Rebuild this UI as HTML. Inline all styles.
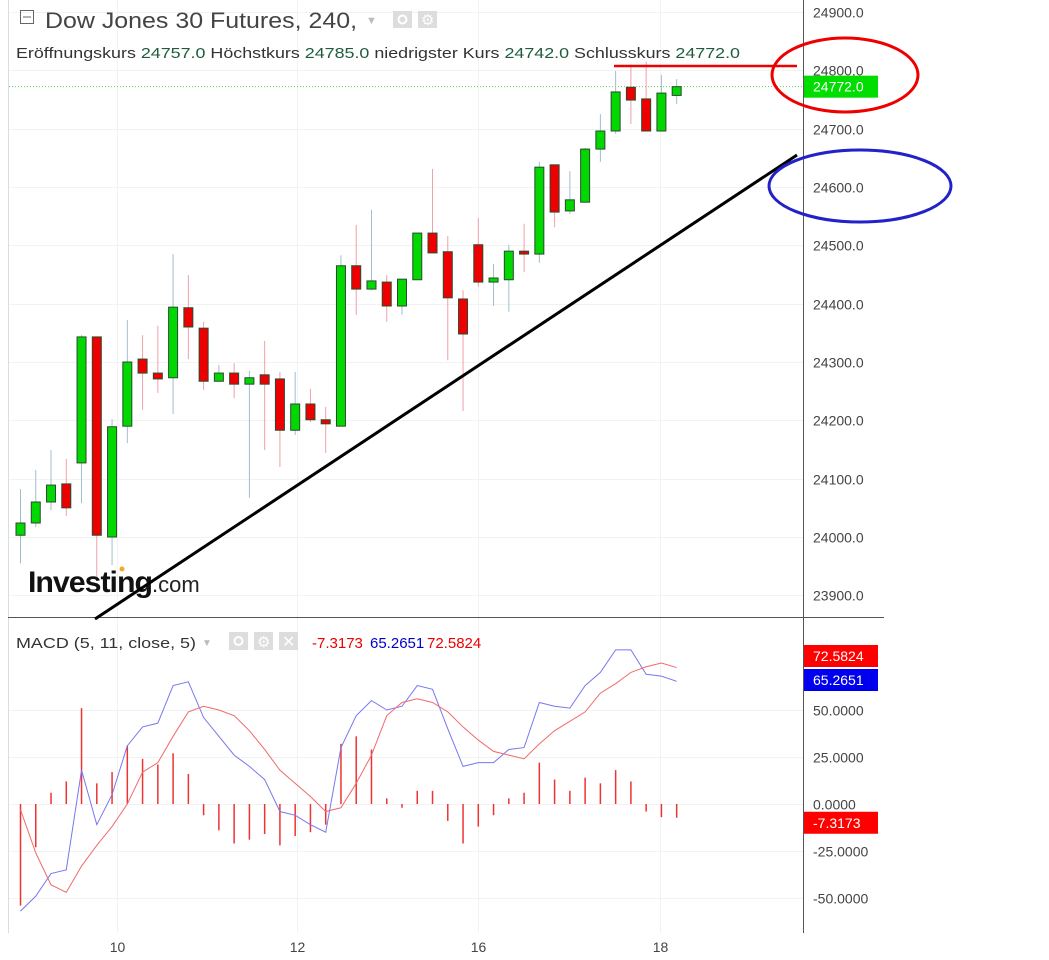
<!DOCTYPE html>
<html><head><meta charset="utf-8">
<style>
html,body{margin:0;padding:0;background:#fff;width:1049px;height:960px;overflow:hidden}
svg{display:block;font-family:"Liberation Sans",sans-serif}
</style></head>
<body>
<svg id="chart" width="1049" height="960">
  <rect x="0" y="0" width="1049" height="960" fill="#fff"/>
  <line x1="8.5" y1="0" x2="8.5" y2="933" stroke="#d8dce3"/>
  <g id="grid"></g>
  <g id="price-area"></g>
  <g id="macd-area"></g>
  <line x1="8" y1="617.5" x2="884" y2="617.5" stroke="#555"/>
  <line x1="803.5" y1="0" x2="803.5" y2="933" stroke="#555"/>
  <g id="axis"></g>

  <g>
    <rect x="20.5" y="10.5" width="13" height="13" fill="none" stroke="#666"/>
    <line x1="23" y1="17" x2="31" y2="17" stroke="#666"/>
    <text x="45" y="28" font-size="22" fill="#444" textLength="312" lengthAdjust="spacingAndGlyphs">Dow Jones 30 Futures, 240,</text>
    <text x="366" y="24" font-size="11" fill="#bbb">▼</text>
    <rect x="393" y="11" width="19" height="17" fill="#ddd"/>
    <circle cx="402.5" cy="19.5" r="4" fill="none" stroke="#fff" stroke-width="2"/>
    <rect x="418" y="11" width="19" height="17" fill="#ddd"/>
    <text x="421" y="25" font-size="15" fill="#fff">⚙</text>
    <text x="16" y="58" font-size="15" fill="#333" textLength="724" lengthAdjust="spacingAndGlyphs">Eröffnungskurs <tspan fill="#1f5c3f">24757.0</tspan>  Höchstkurs <tspan fill="#1f5c3f">24785.0</tspan>  niedrigster Kurs <tspan fill="#1f5c3f">24742.0</tspan>  Schlusskurs <tspan fill="#1f5c3f">24772.0</tspan></text>
  </g>

  <g>
    <text x="28" y="592" font-size="30" font-weight="bold" fill="#111" letter-spacing="-1" textLength="124" lengthAdjust="spacingAndGlyphs">Investing</text>
    <text x="152" y="592" font-size="22" fill="#222">.com</text>
    <circle cx="122" cy="569" r="2.5" fill="#f5a623"/>
  </g>

  <g>
    <text x="16" y="648" font-size="15" fill="#333" textLength="180" lengthAdjust="spacingAndGlyphs">MACD (5, 11, close, 5)</text>
    <text x="202" y="646" font-size="10" fill="#bbb">▼</text>
    <rect x="229" y="632" width="19" height="18" fill="#ddd"/>
    <circle cx="238.5" cy="641" r="4" fill="none" stroke="#fff" stroke-width="2"/>
    <rect x="254" y="632" width="19" height="18" fill="#ddd"/>
    <text x="257" y="647" font-size="15" fill="#fff">⚙</text>
    <rect x="279" y="632" width="19" height="18" fill="#ddd"/>
    <text x="282" y="647" font-size="16" fill="#fff">✕</text>
    <text x="312" y="648" font-size="15" fill="#e00">-7.3173</text>
    <text x="370" y="648" font-size="15" fill="#00c">65.2651</text>
    <text x="427" y="648" font-size="15" fill="#e00">72.5824</text>
  </g>

  <g>
    <line x1="95" y1="619" x2="797" y2="155" stroke="#000" stroke-width="3"/>
    <line x1="614" y1="66" x2="797" y2="66" stroke="#e00" stroke-width="2.5"/>
    <ellipse cx="845" cy="75" rx="73" ry="37" fill="none" stroke="#e00" stroke-width="3"/>
    <ellipse cx="860" cy="186" rx="91" ry="36" fill="none" stroke="#2222c8" stroke-width="3"/>
  </g>
</svg>
<script>
const opens  = [24003,24024,24060,24091,24127,24343,24000,24190,24305,24281,24273,24393,24358,24267,24281,24262,24278,24271,24183,24228,24201,24190,24465,24425,24437,24396,24441,24521,24489,24408,24501,24437,24441,24490,24485,24638,24559,24574,24665,24696,24771,24751,24696,24757];
const highs  = [24082,24115,24149,24134,24346,24343,24202,24372,24346,24362,24485,24449,24369,24295,24298,24285,24336,24283,24283,24254,24223,24483,24535,24561,24449,24442,24521,24631,24516,24423,24547,24468,24501,24537,24643,24638,24627,24667,24725,24799,24810,24815,24792,24785];
const lows   = [23955,24017,24046,24036,24058,23931,23952,24161,24218,24247,24211,24305,24252,24267,24238,24067,24149,24120,24175,24197,24144,24190,24381,24423,24369,24381,24441,24487,24303,24216,24429,24396,24386,24454,24470,24531,24554,24574,24643,24691,24708,24696,24696,24742];
const closes = [24024,24060,24089,24050,24343,24003,24189,24300,24281,24271,24394,24360,24267,24281,24262,24273,24262,24183,24228,24201,24194,24465,24425,24439,24396,24442,24521,24487,24410,24348,24437,24444,24490,24485,24634,24557,24578,24665,24696,24763,24749,24696,24761,24772];
const macdVals   = [-57,-49,-37,-35,18,-11,5,31,41,43,63,65,46,36,26,20,13,-4,-6,-11,-15,30,47,55,50,52,63,61,40,20,22,22,29,30,54,52,51,63,70,82,82,69,68,65.2651];
const signalVals = [-3,-26,-43,-47,-33,-22,-12,0,17,22,36,49,52,50,47,39,29,18,11,4,-4,-2,11,26,47,54,56,54,49,41,34,28,26,24,32,39,44,49,59,64,70,73,75,72.5824];
const priceTicks = [24900,24800,24700,24600,24500,24400,24300,24200,24100,24000,23900];
const macdTicks  = [50,25,0,-25,-50];
const dateLabels = ["10","12","16","18"];
const dateIndex  = [6.3,18.1,30.0,41.9];

const NS="http://www.w3.org/2000/svg";
function mk(tag,attrs,parent){const e=document.createElementNS(NS,tag);for(const k in attrs)e.setAttribute(k,attrs[k]);parent.appendChild(e);return e;}
const xOf=i=>20.5+i*15.26;
const yP=p=>12+(24900-p)*0.58333;
const yM=v=>804-v*1.88;
const grid=document.getElementById('grid'),pa=document.getElementById('price-area'),ma=document.getElementById('macd-area'),ax=document.getElementById('axis');

priceTicks.forEach(t=>{
  const y=Math.round(yP(t))+0.5;
  const g=mk('line',{x1:9,y1:y,x2:803,y2:y,stroke:'#f2f2f2'},grid);
  
  
  const tx=mk('text',{x:813,y:y+5,'font-size':14,fill:'#444'},ax);
  
  
  tx.textContent=t.toFixed(1);
});
macdTicks.forEach(t=>{
  const y=Math.round(yM(t))+0.5;
  const g=mk('line',{x1:9,y1:y,x2:803,y2:y,stroke:'#f2f2f2'},grid);
  
  
  const tx=mk('text',{x:813,y:y+5,'font-size':14,fill:'#444'},ax);
  
  
  tx.textContent=t.toFixed(4);
});
dateLabels.forEach((d,k)=>{
  const x=Math.round(xOf(dateIndex[k]))+0.5;
  const g=mk('line',{x1:x,y1:0,x2:x,y2:933,stroke:'#f2f2f2'},grid);
  
  
  const tx=mk('text',{x:x,y:952,'font-size':14,fill:'#444','text-anchor':'middle'},ax);
  
  
  tx.textContent=d;
});

const lastC=closes[closes.length-1];
const lp=mk('line',{x1:9,y1:yP(lastC),x2:803,y2:yP(lastC),stroke:'#6c6','stroke-dasharray':'1,2'},pa);



opens.forEach((o,i)=>{
  const c=closes[i],up=c>=o,x=xOf(i);
  const w=mk('line',{x1:x,y1:yP(highs[i]),x2:x,y2:yP(lows[i]),stroke:up?'#9fbfcf':'#f0a0a8','stroke-width':1},pa);
  
  
  const top=yP(Math.max(o,c)),bot=yP(Math.min(o,c));
  const b=mk('rect',{x:x-4.5,y:top,width:9,height:Math.max(bot-top,2),fill:up?'#00d800':'#e00',stroke:'#2a4a30','stroke-width':1},pa);
  
  
});

macdVals.forEach((m,i)=>{
  const h=m-signalVals[i],x=xOf(i);
  const l=mk('line',{x1:x,y1:yM(0),x2:x,y2:yM(h),stroke:'#e33','stroke-width':1.5},ma);
  
  
});
const ml=mk('polyline',{points:macdVals.map((v,i)=>xOf(i)+','+yM(v)).join(' '),fill:'none',stroke:'#7777ee','stroke-width':1},ma);


const sl=mk('polyline',{points:signalVals.map((v,i)=>xOf(i)+','+yM(v)).join(' '),fill:'none',stroke:'#f06a6a','stroke-width':1},ma);



function badge(val,color,name,y){
  const r=mk('rect',{x:804,y:y-11,width:74,height:22,fill:color},ax);
  
  
  const t=mk('text',{x:813,y:y+5,'font-size':14,fill:'#fff'},ax);
  
  
  t.textContent=val;
}
badge(lastC.toFixed(1),'#00dd00','last-price-badge',yP(lastC));
const lastM=macdVals[macdVals.length-1],lastS=signalVals[signalVals.length-1];
badge(lastS.toFixed(4),'#ff0000','signal-badge',656);
badge(lastM.toFixed(4),'#0000ee','macd-badge',680);
badge((lastM-lastS).toFixed(4),'#ff0000','histogram-badge',yM(lastM-lastS)+5);
</script>
</body></html>
